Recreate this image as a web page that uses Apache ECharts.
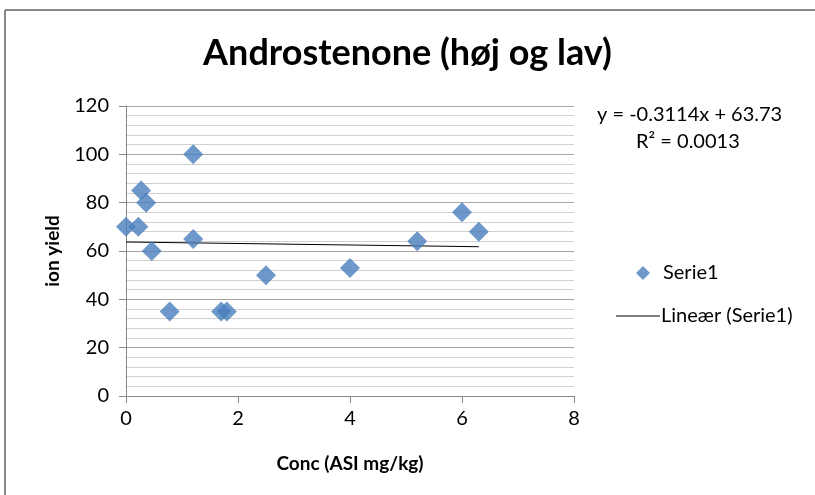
<!DOCTYPE html>
<html>
<head>
<meta charset="utf-8">
<script src="https://cdn.jsdelivr.net/npm/echarts@6/dist/echarts.min.js"></script>
<style>
  html, body { margin: 0; padding: 0; background: #fff; }
  #chart { width: 815px; height: 495px; }
</style>
</head>
<body>
<div id="chart"></div>
<script>
// Serie1
var concX = [0, 0.22, 0.27, 0.36, 0.46, 0.78, 1.2, 1.2, 1.7, 1.8, 2.5, 4.0, 5.2, 6.0, 6.3]
var ionY = [70, 70, 85, 80, 60, 35, 100, 65, 35, 35, 50, 53, 64, 76, 68]

// Lineær (Serie1): y = -0.3114x + 63.73, drawn from x=0 to x=6.3
var trendX = [0, 6.3]
var trendY = [63.73, 61.77]

var xTicks = [0, 2, 4, 6, 8]
var yTicks = [0, 20, 40, 60, 80, 100, 120]

var font = 'Lato'
var blue = '#4a7ebb'

var chart = echarts.init(document.getElementById('chart'))

var option = {
  backgroundColor: '#fff',
  animation: false,
  title: {
    text: 'Androstenone (høj og lav)',
    left: 'center',
    top: 30,
    textStyle: { fontFamily: font, fontWeight: 'bold', fontSize: 36, color: '#000' }
  },
  grid: { left: 126, right: 241, top: 106, bottom: 99 },
  xAxis: {
    type: 'value',
    min: xTicks[0],
    max: xTicks[xTicks.length - 1],
    interval: 2,
    name: 'Conc (ASI mg/kg)',
    nameLocation: 'middle',
    nameGap: 58,
    nameTextStyle: { fontFamily: font, fontWeight: 'bold', fontSize: 19, color: '#000' },
    axisLine: { lineStyle: { color: '#888', width: 1 } },
    axisTick: { length: 7, lineStyle: { color: '#888' } },
    axisLabel: { fontFamily: font, fontSize: 20, color: '#000', margin: 13 },
    splitLine: { show: false }
  },
  yAxis: {
    type: 'value',
    min: yTicks[0],
    max: yTicks[yTicks.length - 1],
    interval: 20,
    name: 'ion yield',
    nameLocation: 'middle',
    nameGap: 64,
    nameTextStyle: { fontFamily: font, fontWeight: 'bold', fontSize: 19, color: '#000' },
    axisLine: { show: true, lineStyle: { color: '#888', width: 1 } },
    axisTick: { show: true, length: 7, lineStyle: { color: '#888' } },
    axisLabel: { fontFamily: font, fontSize: 20, color: '#000', margin: 17 },
    splitLine: { show: true, lineStyle: { color: '#a6a6a6', width: 1 } },
    minorTick: { show: false, splitNumber: 5 },
    minorSplitLine: { show: true, lineStyle: { color: '#d0d0d0', width: 1 } }
  },
  legend: [{
    data: [{ name: 'Serie1', icon: 'diamond' }],
    orient: 'vertical',
    left: 631,
    top: 258,
    itemWidth: 14,
    itemHeight: 14,
    textStyle: { fontFamily: font, fontSize: 20, color: '#000', padding: [0, 0, 0, 8] }
  }, {
    data: [{ name: 'Lineær (Serie1)', icon: 'rect' }],
    orient: 'vertical',
    left: 611,
    top: 301,
    itemWidth: 44,
    itemHeight: 1,
    textStyle: { fontFamily: font, fontSize: 20, color: '#000', padding: [0, 0, 0, -4] }
  }],
  graphic: [
    { type: 'line', shape: { x1: 5, y1: 10, x2: 815, y2: 10 }, style: { stroke: '#888', lineWidth: 2 } },
    { type: 'line', shape: { x1: 5, y1: 10, x2: 5, y2: 495 }, style: { stroke: '#888', lineWidth: 2 } },
    {
      type: 'text', left: 597, top: 105,
      style: { text: 'y = -0.3114x + 63.73', fontFamily: font, fontSize: 20, fill: '#000' }
    },
    {
      type: 'text', left: 636, top: 132,
      style: { text: 'R² = 0.0013', fontFamily: font, fontSize: 20, fill: '#000' }
    }
  ],
  series: [{
    name: 'Serie1',
    type: 'scatter',
    symbol: 'diamond',
    symbolSize: 20,
    itemStyle: { color: blue },
    data: concX.map(function (x, i) { return [x, ionY[i]] }),
    z: 3
  }, {
    name: 'Lineær (Serie1)',
    type: 'line',
    symbol: 'none',
    lineStyle: { color: '#000', width: 1 },
    itemStyle: { color: '#000' },
    data: trendX.map(function (x, i) { return [x, trendY[i]] }),
    z: 2
  }]
}

chart.setOption(option)
</script>
</body>
</html>
